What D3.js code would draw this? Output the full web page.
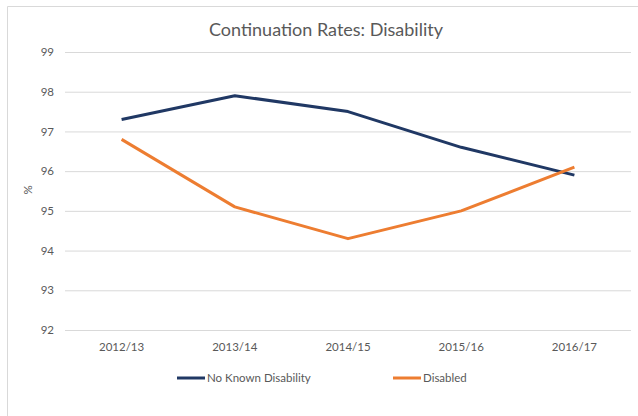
<!DOCTYPE html>
<html>
<head>
<meta charset="utf-8">
<script src="https://cdn.jsdelivr.net/npm/d3@7"></script>
<style>
  body { margin: 0; background: #fff; }
  svg { display: block; font-family: Lato, "Open Sans", sans-serif; }
</style>
</head>
<body>
<div id="chart"></div>
<script>
// Data
const years = ["2012/13", "2013/14", "2014/15", "2015/16", "2016/17"];
const noKnownDisability = [97.3, 97.9, 97.5, 96.6, 95.9];
const disabled = [96.8, 95.1, 94.3, 95.0, 96.1];
const yTicks = [92, 93, 94, 95, 96, 97, 98, 99];

const series = [
    { name: "No Known Disability", values: noKnownDisability, color: "#203864" },
    { name: "Disabled", values: disabled, color: "#ED7D31" }
];

const canvas = { w: 638, h: 416 };
const margin = { top: 52, right: 7, bottom: 86, left: 65 };

const svg = d3.select("#chart")
    .append("svg")
    .attr("width", canvas.w)
    .attr("height", canvas.h);

// frame
svg.append("path")
    .attr("d", `M7.5,${canvas.h} V6.5 H${canvas.w}`)
    .attr("fill", "none")
    .attr("stroke", "#d9d9d9");

const x = d3.scaleBand()
    .domain(years)
    .range([margin.left, canvas.w - margin.right]);

const y = d3.scaleLinear()
    .domain([92, 99])
    .range([canvas.h - margin.bottom, margin.top]);

// title
svg.append("text")
    .attr("x", 326)
    .attr("y", 36)
    .attr("text-anchor", "middle")
    .attr("font-size", 18)
    .attr("fill", "#595959")
    .text("Continuation Rates: Disability");

// y grid + labels
const yAxis = svg.append("g")
    .attr("transform", `translate(${margin.left},0)`)
    .call(d3.axisLeft(y)
        .tickValues(yTicks)
        .tickFormat(d3.format("d"))
        .tickSize(-(canvas.w - margin.left - margin.right))
        .tickPadding(11));
yAxis.select(".domain").remove();
yAxis.selectAll(".tick line").attr("stroke", "#d9d9d9").attr("stroke-width", 1);
yAxis.selectAll(".tick text").attr("fill", "#595959").attr("font-size", 11.5).attr("font-family", "Lato, sans-serif");

// x labels
const xAxis = svg.append("g")
    .attr("transform", `translate(0,${canvas.h - margin.bottom})`)
    .call(d3.axisBottom(x).tickSize(0).tickPadding(13));
xAxis.select(".domain").remove();
xAxis.selectAll(".tick text").attr("fill", "#595959").attr("font-size", 11.5).attr("font-family", "Lato, sans-serif");

// y title
svg.append("text")
    .attr("transform", "translate(32,190) rotate(-90)")
    .attr("text-anchor", "middle")
    .attr("font-size", 11.5)
    .attr("fill", "#595959")
    .text("%");

// lines
const line = d3.line()
    .x((d, i) => x(years[i]) + x.bandwidth() / 2)
    .y(d => y(d));

svg.selectAll(".series")
    .data(series)
    .enter()
    .append("path")
    .attr("class", "series")
    .attr("d", d => line(d.values))
    .attr("fill", "none")
    .attr("stroke", d => d.color)
    .attr("stroke-width", 3)
    .attr("stroke-linejoin", "round");

// legend
const legendX = [177, 393];
const legend = svg.selectAll(".legend")
    .data(series)
    .enter()
    .append("g")
    .attr("class", "legend")
    .attr("transform", (d, i) => `translate(${legendX[i]},378)`);
legend.append("line")
    .attr("x1", 0).attr("x2", 28)
    .attr("stroke", d => d.color)
    .attr("stroke-width", 3);
legend.append("text")
    .attr("x", 30)
    .attr("dy", "0.35em")
    .attr("font-size", 11.5)
    .attr("fill", "#595959")
    .text(d => d.name);
</script>
</body>
</html>
